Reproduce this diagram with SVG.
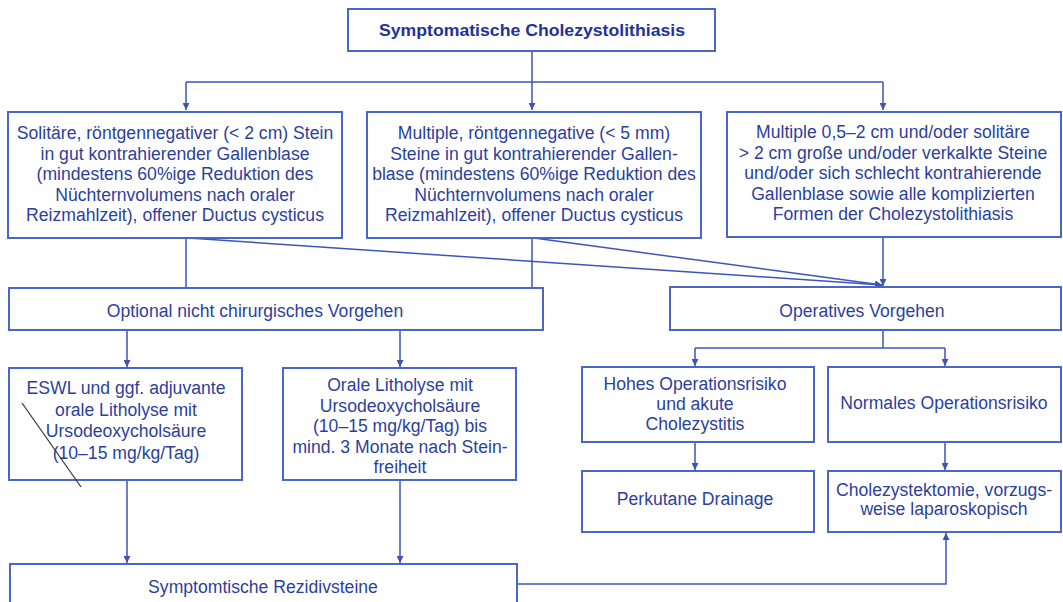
<svg xmlns="http://www.w3.org/2000/svg" width="1063" height="602" viewBox="0 0 1063 602">
<defs>
<marker id="arr" markerUnits="userSpaceOnUse" markerWidth="8" markerHeight="7" refX="7" refY="3.5" orient="auto">
<path d="M0,0 L7,3.5 L0,7 z" fill="#3d55b8"/>
</marker>
</defs>
<style>
.box{fill:#ffffff;stroke:#4a66c6;stroke-width:2}
.t{font-family:"Liberation Sans",Arial,sans-serif;font-size:17.6px;fill:#2c3f9e;text-anchor:middle}
.title{font-family:"Liberation Sans",Arial,sans-serif;font-size:17px;font-weight:bold;fill:#22329a;text-anchor:middle}
.c{fill:none;stroke:#3d55b8;stroke-width:1.5}
.ca{fill:none;stroke:#3d55b8;stroke-width:1.5;marker-end:url(#arr)}
</style>
<rect width="1063" height="602" fill="#ffffff"/>
<g id="connectors">
<path class="c" d="M532,51 V82 M186,82 H883"/>
<path class="ca" d="M186,82 V110"/>
<path class="ca" d="M532,82 V110"/>
<path class="ca" d="M883,82 V110"/>
<path class="c" d="M186,238 V288 M532,238 V288"/>
<path class="ca" d="M188,238 L882,285"/>
<path class="ca" d="M534,238 L882,285"/>
<path class="ca" d="M883,237 V286"/>
<path class="ca" d="M127,331 V367"/>
<path class="ca" d="M400,331 V367"/>
<path class="c" d="M883,331 V348 M695,348 H945"/>
<path class="ca" d="M695,348 V366"/>
<path class="ca" d="M945,348 V366"/>
<path class="ca" d="M695,442 V470"/>
<path class="ca" d="M945,442 V470"/>
<path class="ca" d="M127,481 V563"/>
<path class="ca" d="M400,481 V563"/>
<path class="ca" d="M517,584 H946 V533"/>
</g>
<g id="n-title">
<rect class="box" x="348" y="9" width="367" height="42"/>
<text class="title" x="532" y="35.5" textLength="306" lengthAdjust="spacingAndGlyphs">Symptomatische Cholezystolithiasis</text>
</g>
<g id="n-solitaer">
<rect class="box" x="8" y="112" width="334" height="126"/>
<text class="t" x="175" y="139">Solitäre, röntgennegativer (&lt; 2 cm) Stein</text>
<text class="t" x="175" y="159.5">in gut kontrahierender Gallenblase</text>
<text class="t" x="175" y="180">(mindestens 60%ige Reduktion des</text>
<text class="t" x="175" y="200.5">Nüchternvolumens nach oraler</text>
<text class="t" x="175" y="221">Reizmahlzeit), offener Ductus cysticus</text>
</g>
<g id="n-multiple">
<rect class="box" x="367" y="112" width="334" height="126"/>
<text class="t" x="534" y="139">Multiple, röntgennegative (&lt; 5 mm)</text>
<text class="t" x="534" y="159.5">Steine in gut kontrahierender Gallen-</text>
<text class="t" x="534" y="180">blase (mindestens 60%ige Reduktion des</text>
<text class="t" x="534" y="200.5">Nüchternvolumens nach oraler</text>
<text class="t" x="534" y="221">Reizmahlzeit), offener Ductus cysticus</text>
</g>
<g id="n-kompliziert">
<rect class="box" x="727" y="112" width="334" height="125"/>
<text class="t" x="893" y="138">Multiple 0,5–2 cm und/oder solitäre</text>
<text class="t" x="893" y="158.5">&gt; 2 cm große und/oder verkalkte Steine</text>
<text class="t" x="893" y="179">und/oder sich schlecht kontrahierende</text>
<text class="t" x="893" y="199.5">Gallenblase sowie alle komplizierten</text>
<text class="t" x="893" y="220">Formen der Cholezystolithiasis</text>
</g>
<g id="n-optional">
<rect class="box" x="9" y="288" width="534" height="42"/>
<text class="t" x="255" y="317">Optional nicht chirurgisches Vorgehen</text>
</g>
<g id="n-operativ">
<rect class="box" x="670" y="287" width="391" height="43"/>
<text class="t" x="862" y="317">Operatives Vorgehen</text>
</g>
<g id="n-eswl">
<rect class="box" x="9" y="368" width="233" height="112"/>
<text class="t" x="126" y="394">ESWL und ggf. adjuvante</text>
<text class="t" x="126" y="415.5">orale Litholyse mit</text>
<text class="t" x="126" y="437">Ursodeoxycholsäure</text>
<text class="t" x="126" y="458.5">(10–15 mg/kg/Tag)</text>
</g>
<g id="n-litholyse">
<rect class="box" x="283" y="368" width="233" height="112"/>
<text class="t" x="400" y="391">Orale Litholyse mit</text>
<text class="t" x="400" y="411.5">Ursodeoxycholsäure</text>
<text class="t" x="400" y="432">(10–15 mg/kg/Tag) bis</text>
<text class="t" x="400" y="452.5">mind. 3 Monate nach Stein-</text>
<text class="t" x="400" y="473">freiheit</text>
</g>
<g id="n-hohes">
<rect class="box" x="582" y="367" width="232" height="75"/>
<text class="t" x="695" y="390">Hohes Operationsrisiko</text>
<text class="t" x="695" y="410">und akute</text>
<text class="t" x="695" y="430">Cholezystitis</text>
</g>
<g id="n-normal">
<rect class="box" x="828" y="367" width="233" height="75"/>
<text class="t" x="944" y="409">Normales Operationsrisiko</text>
</g>
<g id="n-perkutan">
<rect class="box" x="582" y="471" width="232" height="61"/>
<text class="t" x="695" y="505">Perkutane Drainage</text>
</g>
<g id="n-cholezystektomie">
<rect class="box" x="828" y="471" width="233" height="61"/>
<text class="t" x="944" y="496">Cholezystektomie, vorzugs-</text>
<text class="t" x="944" y="515">weise laparoskopisch</text>
</g>
<g id="n-rezidiv">
<rect class="box" x="10" y="564" width="507" height="50"/>
<text class="t" x="263" y="593">Symptomtische Rezidivsteine</text>
</g>
<path d="M22,403 L81,487" fill="none" stroke="#3a3a3a" stroke-width="1.3"/>
</svg>
